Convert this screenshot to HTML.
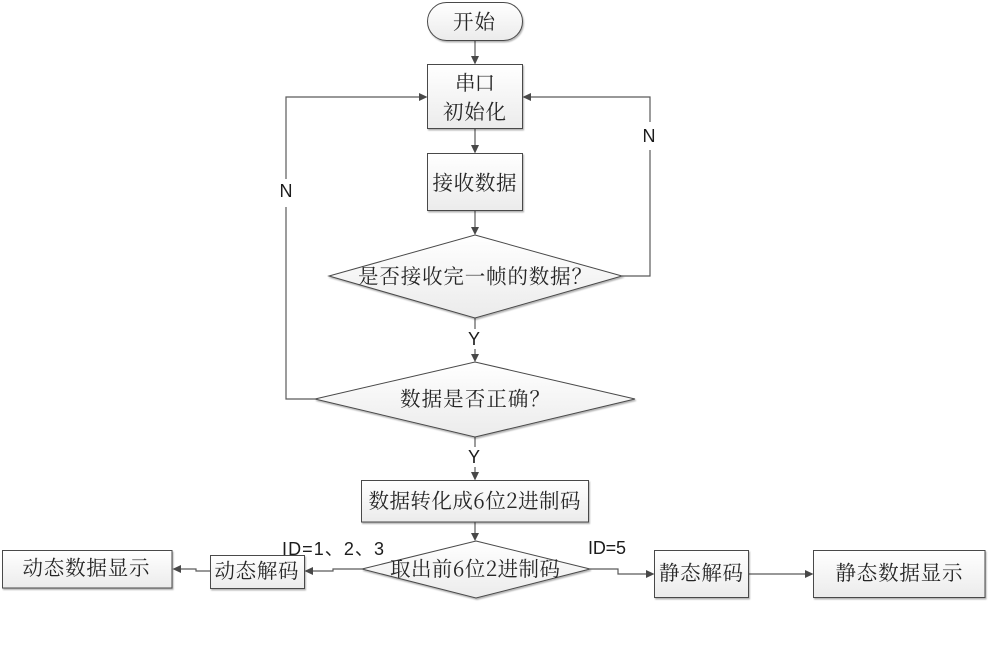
<!DOCTYPE html>
<html><head><meta charset="utf-8">
<style>
html,body{margin:0;padding:0;background:#fff;width:989px;height:667px;overflow:hidden}
svg{display:block}
.c{font-family:"Noto Serif CJK SC","Liberation Serif",serif;font-size:20.5px;fill:#262626;text-anchor:middle}
.l{font-family:"Liberation Sans","Noto Sans CJK SC",sans-serif;font-size:18px;fill:#1c1c1c;text-anchor:middle}
.s{fill:url(#g);stroke:#4a4a4a;stroke-width:1;filter:url(#sh)}
.w{fill:none;stroke:#5a5a5a;stroke-width:1.2}
.a{fill:#484848;stroke:none}
</style></head><body>
<svg width="989" height="667" viewBox="0 0 989 667" xmlns="http://www.w3.org/2000/svg">
<defs>
<linearGradient id="g" x1="0" y1="0" x2="0" y2="1"><stop offset="0" stop-color="#ffffff"/><stop offset="1" stop-color="#ebebeb"/></linearGradient>
<filter id="sh" x="-5%" y="-10%" width="110%" height="125%"><feDropShadow dx="1" dy="1.5" stdDeviation="0.8" flood-color="#000" flood-opacity="0.3"/></filter>
</defs>
<!-- connectors -->
<path class="w" d="M475 40V56M475 128.500V145M475 210V227M475 318V329M475 349V354M475 437V447M475 467V472M475 522V533"/>
<path class="w" d="M315 399H286V207M286 179V97H419"/>
<path class="w" d="M622 276H650V150M650 122V97H531"/>
<path class="w" d="M362 569H333V571H313"/>
<path class="w" d="M210 571H196V569H181"/>
<path class="w" d="M590 569H618V574H646"/>
<path class="w" d="M748.500 574H805"/>
<!-- arrowheads -->
<path class="a" d="M471 56h8l-4 8.500zM471 145h8l-4 8.500zM471 227h8l-4 8zM471 354h8l-4 8zM471 472h8l-4 8.500zM471 533h8l-4 8z"/>
<path class="a" d="M419 93v8l8.500-4zM531 93v8l-8.500-4zM313 567v8l-8.500-4zM181 565v8l-8.500-4zM646 570v8l8.500-4zM805 570v8l8.500-4z"/>
<!-- shapes -->
<rect class="s" x="427.500" y="2.500" width="95" height="38" rx="19" ry="19"/>
<rect class="s" x="427.500" y="64.500" width="95" height="64"/>
<rect class="s" x="427.500" y="153.500" width="95" height="57"/>
<polygon class="s" points="475,235 622,276 475,318 329,276"/>
<polygon class="s" points="475,362 635,399 475,437 315,399"/>
<rect class="s" x="361.500" y="480.500" width="227" height="41.500"/>
<polygon class="s" points="476,541 590,569 476,598 362,569"/>
<rect class="s" x="210.500" y="555.500" width="94" height="33"/>
<rect class="s" x="2.500" y="550.500" width="169.500" height="37.500"/>
<rect class="s" x="654.500" y="550.500" width="94" height="47"/>
<rect class="s" x="813.500" y="550.500" width="171.500" height="47"/>
<!-- text -->
<text class="c" x="474" y="29" textLength="42">开始</text>
<text class="c" x="475" y="90" textLength="40">串口</text>
<text class="c" x="474.500" y="119" textLength="63">初始化</text>
<text class="c" x="474.500" y="190" textLength="84">接收数据</text>
<text class="c" x="475" y="283.500" textLength="234">是否接收完一帧的数据？</text>
<text class="c" x="475" y="406" textLength="150">数据是否正确？</text>
<text class="c" x="474.500" y="508" textLength="212">数据转化成6位2进制码</text>
<text class="c" x="475" y="576" textLength="170">取出前6位2进制码</text>
<text class="c" x="256.500" y="578" textLength="84">动态解码</text>
<text class="c" x="86" y="575" textLength="127">动态数据显示</text>
<text class="c" x="701" y="580" textLength="84">静态解码</text>
<text class="c" x="899" y="580" textLength="127">静态数据显示</text>
<!-- labels -->
<text class="l" x="286" y="197">N</text>
<text class="l" x="649" y="142">N</text>
<text class="l" x="474" y="345">Y</text>
<text class="l" x="474" y="463">Y</text>
<text class="l" x="333" y="555" textLength="102">ID=1、2、3</text>
<text class="l" x="607" y="554" textLength="38">ID=5</text>
</svg>
</body></html>
